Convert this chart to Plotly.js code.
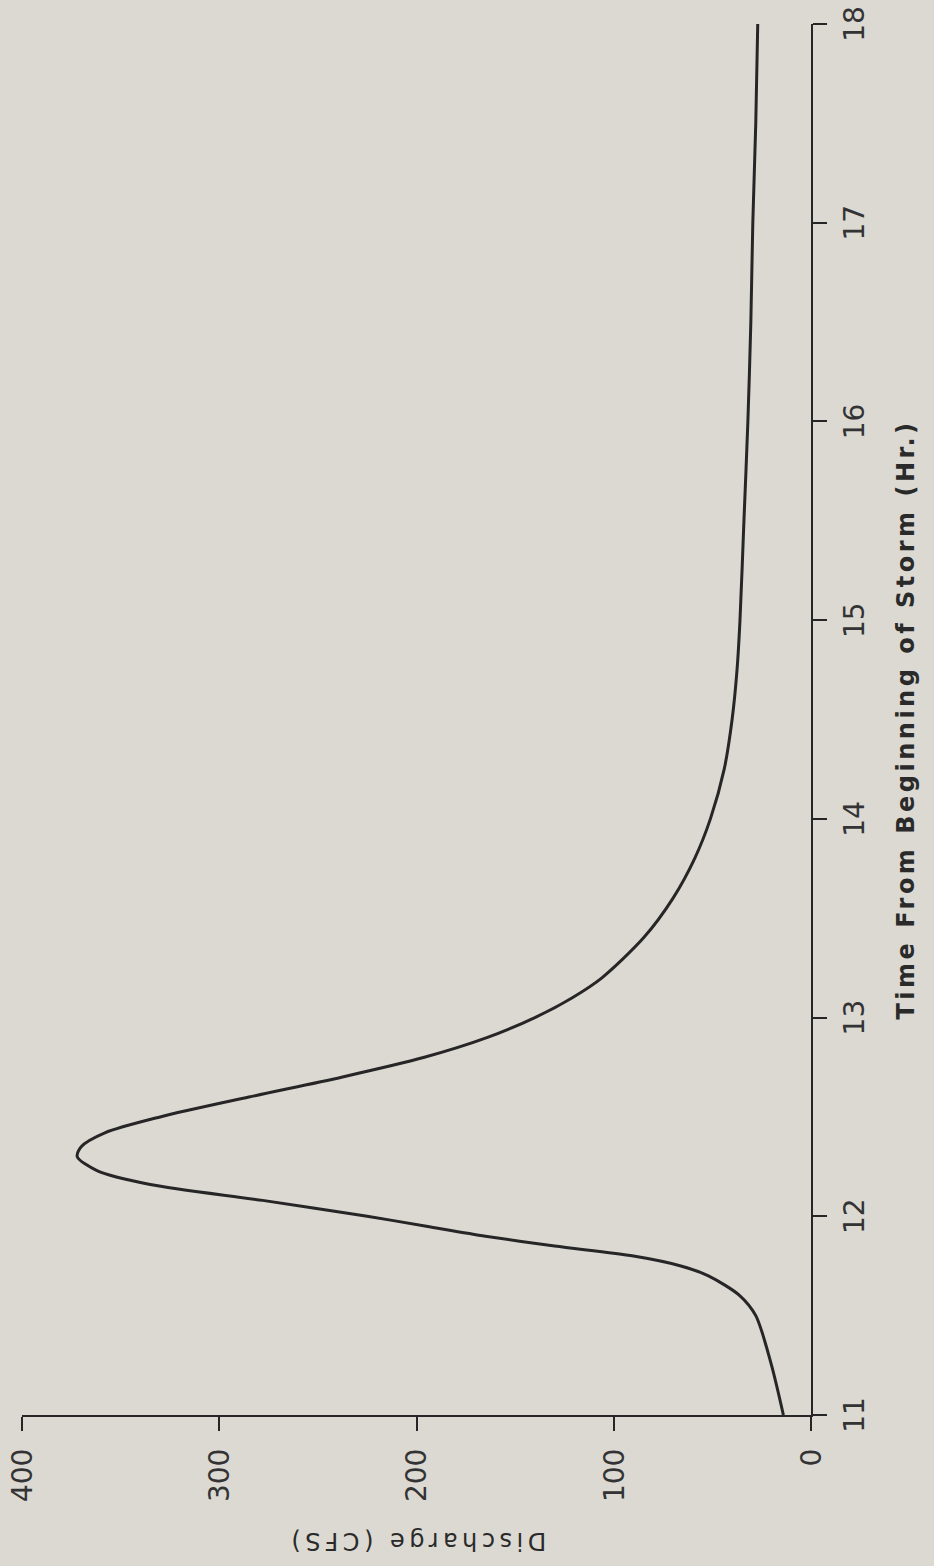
<!DOCTYPE html>
<html>
<head>
<meta charset="utf-8">
<script src="https://cdn.plot.ly/plotly-3.0.1.min.js"></script>
<style>
html, body { margin: 0; padding: 0; background: #dcd9d3; width: 934px; height: 1566px; overflow: hidden; }
#wrap { position: absolute; left: 0; top: 0; width: 1566px; height: 934px;
        transform-origin: 0 0; transform: translate(0px, 1566px) rotate(-90deg); }
#chart { width: 1566px; height: 934px; }
.xtitle { letter-spacing: 3.5px; }
.ytitle { letter-spacing: 4.5px; }
</style>
</head>
<body>
<div id="wrap"><div id="chart"></div></div>
<script>
// Storm hydrograph: time from beginning of storm (hr) vs discharge (cfs)
const timeHr = [11.0, 11.25, 11.5, 11.6, 11.7, 11.75, 11.8, 11.85, 11.9, 11.95, 12.0, 12.08, 12.16, 12.23, 12.3, 12.35,
                12.42, 12.5, 12.6, 12.7, 12.8, 12.9, 13.0, 13.1, 13.2, 13.4, 13.6, 13.8, 14.0, 14.25, 14.5, 14.75,
                15.0, 15.5, 16.0, 16.5, 17.0, 17.5, 18.0];
const dischargeCfs = [14, 20, 28, 36, 52, 66, 90, 130, 165, 195, 225, 278, 335, 362, 372, 370,
                      358, 330, 285, 238, 196, 164, 140, 121, 106, 85, 70, 59, 51, 44, 40, 37.5,
                      36, 34, 32, 30.5, 29.5, 28, 27];
const timeTicks = [11, 12, 13, 14, 15, 16, 17, 18];
const dischargeTicks = [0, 100, 200, 300, 400];

const ink = '#262626';
const fontFam = 'DejaVu Sans, sans-serif';

const trace = {
  x: timeHr,
  y: dischargeCfs,
  type: 'scatter',
  mode: 'lines',
  line: { color: ink, width: 3, shape: 'spline', smoothing: 0.8 },
  hoverinfo: 'x+y',
  showlegend: false
};

const layout = {
  width: 1566,
  height: 934,
  margin: { l: 151, r: 24, t: 22, b: 123 },
  paper_bgcolor: '#dcd9d3',
  plot_bgcolor: '#dcd9d3',
  showlegend: false,
  xaxis: {
    range: [11, 18],
    tickvals: timeTicks,
    ticktext: timeTicks.map(String),
    showline: true, linecolor: ink, linewidth: 2,
    ticks: 'outside', ticklen: 14, tickwidth: 2, tickcolor: ink,
    ticklabelstandoff: 3,
    showgrid: false, zeroline: false,
    tickfont: { family: fontFam, size: 28, color: '#333' },
    title: { text: 'Time From Beginning of Storm (Hr.)', standoff: 28,
             font: { family: fontFam, size: 24, color: '#2a2a2a', weight: 'bold' } }
  },
  yaxis: {
    range: [0, 400],
    tickvals: dischargeTicks,
    ticktext: dischargeTicks.map(String),
    showline: true, linecolor: ink, linewidth: 2,
    ticks: 'outside', ticklen: 14, tickwidth: 2, tickcolor: ink,
    ticklabelstandoff: 12,
    showgrid: false, zeroline: false,
    tickfont: { family: fontFam, size: 28, color: '#333' },
    title: { text: 'Discharge (CFS)', standoff: 24,
             font: { family: fontFam, size: 24, color: '#2a2a2a' } }
  }
};

Plotly.newPlot('chart', [trace], layout, { staticPlot: true, displayModeBar: false });
</script>
</body>
</html>
